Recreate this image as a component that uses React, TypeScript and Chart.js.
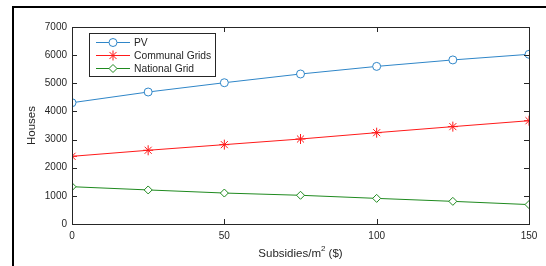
import React, { useEffect, useRef } from "react";
import { Chart, registerables } from "chart.js";

Chart.register(...registerables);

const subsidies = [0, 25, 50, 75, 100, 125, 150];
const pvHouses = [4310, 4690, 5020, 5330, 5600, 5830, 6030];
const communalHouses = [2405, 2620, 2820, 3020, 3245, 3460, 3670];
const nationalHouses = [1325, 1210, 1100, 1020, 910, 805, 690];
const xTicks = [0, 50, 100, 150];
const yTicks = [0, 1000, 2000, 3000, 4000, 5000, 6000, 7000];
const seriesNames = ["PV", "Communal Grids", "National Grid"];
const xTitle = "Subsidies/m";
const xTitleSup = "2";
const xTitleTail = " ($)";
const yTitle = "Houses";

const colors = ["#2f86c8", "#ff1a1a", "#1f8a1f"];
const styles: any[] = ["circle", "star", "rectRot"];

const FONT = "Arial, 'Liberation Sans', sans-serif";
const TEXT = "#262626";

function drawMarker(ctx: any, style: string, x: number, y: number, r: number, color: string) {
  ctx.save();
  ctx.strokeStyle = color;
  ctx.fillStyle = "#ffffff";
  ctx.lineWidth = 1;
  ctx.beginPath();
  if (style === "circle") {
    ctx.arc(x, y, r, 0, Math.PI * 2);
    ctx.fill();
    ctx.stroke();
  } else if (style === "rectRot") {
    ctx.moveTo(x, y - r);
    ctx.lineTo(x + r, y);
    ctx.lineTo(x, y + r);
    ctx.lineTo(x - r, y);
    ctx.closePath();
    ctx.fill();
    ctx.stroke();
  } else {
    for (let k = 0; k < 4; k++) {
      const ang = (k * Math.PI) / 4;
      ctx.moveTo(x - r * Math.cos(ang), y - r * Math.sin(ang));
      ctx.lineTo(x + r * Math.cos(ang), y + r * Math.sin(ang));
    }
    ctx.stroke();
  }
  ctx.restore();
}

const decorPlugin = {
  id: "decor",
  afterDraw(chart: any) {
    const ctx = chart.ctx;
    const a = chart.chartArea;
    const xs = chart.scales.x;
    const ys = chart.scales.y;
    ctx.save();
    ctx.strokeStyle = TEXT;
    ctx.lineWidth = 1;
    ctx.strokeRect(Math.round(a.left) + 0.5, Math.round(a.top) + 0.5, Math.round(a.right - a.left), Math.round(a.bottom - a.top));
    const tl = 5;
    ctx.beginPath();
    for (const v of xTicks) {
      const px = Math.round(xs.getPixelForValue(v)) + 0.5;
      ctx.moveTo(px, a.bottom);
      ctx.lineTo(px, a.bottom - tl);
      ctx.moveTo(px, a.top);
      ctx.lineTo(px, a.top + tl);
    }
    for (const v of yTicks) {
      const py = Math.round(ys.getPixelForValue(v)) + 0.5;
      ctx.moveTo(a.left, py);
      ctx.lineTo(a.left + tl, py);
      ctx.moveTo(a.right, py);
      ctx.lineTo(a.right - tl, py);
    }
    ctx.stroke();

    // axis titles
    const tf = 11.5;
    const sf = 8;
    ctx.fillStyle = TEXT;
    ctx.textBaseline = "middle";
    ctx.font = `${tf}px ${FONT}`;
    const w1 = ctx.measureText(xTitle).width;
    ctx.font = `${sf}px ${FONT}`;
    const w2 = ctx.measureText(xTitleSup).width;
    ctx.font = `${tf}px ${FONT}`;
    const w3 = ctx.measureText(xTitleTail).width;
    const total = w1 + w2 + w3;
    const x0 = (a.left + a.right) / 2 - total / 2;
    const ty = 253.5;
    ctx.textAlign = "left";
    ctx.fillText(xTitle, x0, ty);
    ctx.font = `${sf}px ${FONT}`;
    ctx.fillText(xTitleSup, x0 + w1, ty - 5);
    ctx.font = `${tf}px ${FONT}`;
    ctx.fillText(xTitleTail, x0 + w1 + w2, ty);

    ctx.save();
    ctx.translate(31.5, (a.top + a.bottom) / 2);
    ctx.rotate(-Math.PI / 2);
    ctx.textAlign = "center";
    ctx.fillText(yTitle, 0, 0);
    ctx.restore();

    // legend
    const lx = 89.5, ly = 33.5, lw = 126, lh = 43;
    ctx.fillStyle = "#ffffff";
    ctx.fillRect(lx, ly, lw, lh);
    ctx.strokeStyle = TEXT;
    ctx.strokeRect(lx, ly, lw, lh);
    const rows = [42, 55, 68];
    chart.data.datasets.forEach((ds: any, i: number) => {
      const y = rows[i] + 0.5;
      ctx.strokeStyle = colors[i];
      ctx.lineWidth = 1;
      ctx.beginPath();
      ctx.moveTo(96, y);
      ctx.lineTo(130, y);
      ctx.stroke();
      drawMarker(ctx, styles[i], 113, y, ds.pointRadius, colors[i]);
      ctx.fillStyle = TEXT;
      ctx.font = `10.3px ${FONT}`;
      ctx.textAlign = "left";
      ctx.textBaseline = "middle";
      ctx.fillText(seriesNames[i], 134, y + 0.5);
    });
    ctx.restore();
  },
};

export default function App() {
  const ref = useRef<HTMLCanvasElement | null>(null);
  useEffect(() => {
    document.body.style.margin = "0";
    const mk = (data: number[], i: number, radius: number) => ({
      label: seriesNames[i],
      data: subsidies.map((x, k) => ({ x, y: data[k] })),
      borderColor: colors[i],
      backgroundColor: "#ffffff",
      pointBorderColor: colors[i],
      pointBackgroundColor: "rgba(255,255,255,1)",
      borderWidth: 1,
      pointBorderWidth: 1,
      pointRadius: radius,
      pointStyle: styles[i],
      tension: 0,
    });
    const chart = new Chart(ref.current as HTMLCanvasElement, {
      type: "line",
      data: {
        datasets: [mk(pvHouses, 0, 4), mk(communalHouses, 1, 5), mk(nationalHouses, 2, 4)],
      },
      plugins: [decorPlugin],
      options: {
        animation: false,
        responsive: true,
        maintainAspectRatio: false,
        layout: { padding: { top: 27, right: 17, left: 0, bottom: 0 } },
        plugins: { legend: { display: false }, tooltip: { enabled: false } },
        scales: {
          x: {
            type: "linear",
            min: 0,
            max: 150,
            afterFit: (s: any) => { s.height = 42; },
            afterBuildTicks: (s: any) => { s.ticks = xTicks.map((v) => ({ value: v })); },
            grid: { display: false, drawTicks: false },
            border: { display: false },
            ticks: { color: TEXT, font: { size: 10, family: FONT }, padding: 6, maxRotation: 0, callback: (v: any) => String(v) },
          },
          y: {
            type: "linear",
            min: 0,
            max: 7000,
            afterFit: (s: any) => { s.width = 72; },
            afterBuildTicks: (s: any) => { s.ticks = yTicks.map((v) => ({ value: v })); },
            grid: { display: false, drawTicks: false },
            border: { display: false },
            ticks: { color: TEXT, font: { size: 10, family: FONT }, padding: 5, callback: (v: any) => String(v) },
          },
        },
      },
    } as any);
    return () => chart.destroy();
  }, []);
  return (
    <div style={{ position: "relative", width: 546, height: 266, background: "#fff", overflow: "hidden" }}>
      <canvas ref={ref} />
      <div
        style={{
          position: "absolute",
          left: 12,
          top: 6,
          width: 600,
          height: 300,
          borderTop: "2px solid #000",
          borderLeft: "2px solid #000",
          pointerEvents: "none",
        }}
      />
    </div>
  );
}
